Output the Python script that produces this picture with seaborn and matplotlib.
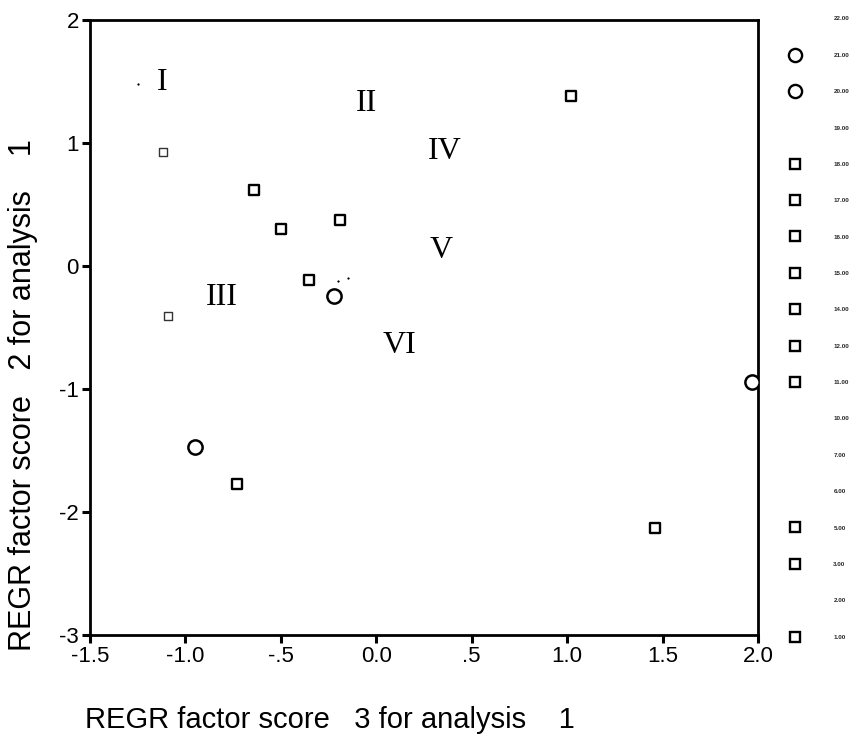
import matplotlib
matplotlib.use("Agg")
import matplotlib.pyplot as plt
import seaborn as sns
from matplotlib.lines import Line2D
from matplotlib import font_manager

# ---- data ----
square_x = [-0.64, -0.50, -0.19, -0.35, -0.73, 1.02, 1.46]
square_y = [0.62, 0.30, 0.37, -0.11, -1.77, 1.38, -2.13]

faint_square_x = [-1.12, -1.09]
faint_square_y = [0.93, -0.41]

circle_x = [-0.22, -0.95, 1.97]
circle_y = [-0.24, -1.47, -0.94]

dot_x = [-1.25, -0.20, -0.15]
dot_y = [1.48, -0.12, -0.10]

region_labels = ["I", "II", "III", "IV", "V", "VI"]
region_x = [-1.12, -0.05, -0.81, 0.36, 0.34, 0.12]
region_y = [1.49, 1.32, -0.26, 0.93, 0.13, -0.65]

legend_labels = ["22.00", "21.00", "20.00", "19.00", "18.00", "17.00", "16.00",
                 "15.00", "14.00", "12.00", "11.00", "10.00", "7.00", "6.00",
                 "5.00", "3.00", "2.00", "1.00"]
legend_markers = ["", "o", "o", "", "s", "s", "s", "s", "s", "s", "s",
                  "", "", "", "s", "s", "", "s"]

x_ticks = [-1.5, -1.0, -0.5, 0.0, 0.5, 1.0, 1.5, 2.0]
x_tick_labels = ["-1.5", "-1.0", "-.5", "0.0", ".5", "1.0", "1.5", "2.0"]
y_ticks = [-3, -2, -1, 0, 1, 2]
y_tick_labels = ["-3", "-2", "-1", "0", "1", "2"]

# ---- style ----
sns.set_style("white")
plt.rcParams['font.family'] = ['Liberation Sans', 'DejaVu Sans']

installed = {f.name for f in font_manager.fontManager.ttflist}
narrow = 'Liberation Sans Narrow' if 'Liberation Sans Narrow' in installed else 'Liberation Sans'
tick_size = 19 if narrow == 'Liberation Sans Narrow' else 16

W, H = 854, 744
fig = plt.figure(figsize=(W / 100, H / 100), dpi=100)
ax_l, ax_r, ax_t, ax_b = 90, 758, 20, 635
ax = fig.add_axes([ax_l / W, 1 - ax_b / H, (ax_r - ax_l) / W, (ax_b - ax_t) / H])

sns.scatterplot(x=square_x, y=square_y, marker='s', s=48, color='white',
                edgecolor='black', linewidth=1.7, ax=ax, zorder=3)
sns.scatterplot(x=faint_square_x, y=faint_square_y, marker='s', s=30, color='white',
                edgecolor='#333333', linewidth=1.0, ax=ax, zorder=3)
sns.scatterplot(x=circle_x, y=circle_y, marker='o', s=105, color='white',
                edgecolor='black', linewidth=1.8, ax=ax, zorder=3)
sns.scatterplot(x=dot_x, y=dot_y, marker='.', s=6, color='black',
                edgecolor='black', linewidth=0.3, ax=ax, zorder=3)

for lab, tx, ty in zip(region_labels, region_x, region_y):
    ax.text(tx, ty, lab, family=['Liberation Serif', 'DejaVu Serif'],
            fontsize=23, ha='center', va='center', color='black')

ax.set_xlim(-1.5, 2.0)
ax.set_ylim(-3, 2)
ax.set_xticks(x_ticks)
ax.set_xticklabels(x_tick_labels, family=[narrow, 'DejaVu Sans'], fontsize=tick_size)
ax.set_yticks(y_ticks)
ax.set_yticklabels(y_tick_labels, family=[narrow, 'DejaVu Sans'], fontsize=tick_size)
ax.tick_params(axis='both', direction='out', length=6, width=2.2,
               colors='black', pad=2)
ax.tick_params(bottom=True, left=True, top=False, right=False)
for sp in ax.spines.values():
    sp.set_visible(True)
    sp.set_linewidth(2.0)
    sp.set_color('black')

ax.set_xlabel("REGR factor score   3 for analysis    1", fontsize=21, color='black')
ax.set_ylabel("REGR factor score   2 for analysis    1", fontsize=22, color='black')
ax.xaxis.set_label_coords((330 - ax_l) / (ax_r - ax_l), -(706 - ax_b) / (ax_b - ax_t))
ax.yaxis.set_label_coords(-(ax_l - 38) / (ax_r - ax_l), (ax_b - 395) / (ax_b - ax_t))

handles = []
for m in legend_markers:
    if m:
        handles.append(Line2D([], [], marker=m, linestyle='none',
                              markerfacecolor='white', markeredgecolor='black',
                              markersize=9.5 if m == 'o' else 7, markeredgewidth=1.7))
    else:
        handles.append(Line2D([], [], marker='', linestyle='none'))

fs = 4.5
leg = ax.legend(handles, legend_labels, loc='upper left',
                bbox_to_anchor=(789 / W, 1 - 16 / H), bbox_transform=fig.transFigure,
                frameon=False, prop={'size': fs, 'weight': 'bold'},
                labelspacing=4.96, handlelength=2, handletextpad=5.1,
                borderpad=0, borderaxespad=0)

fig.savefig("out.png", dpi=100)
